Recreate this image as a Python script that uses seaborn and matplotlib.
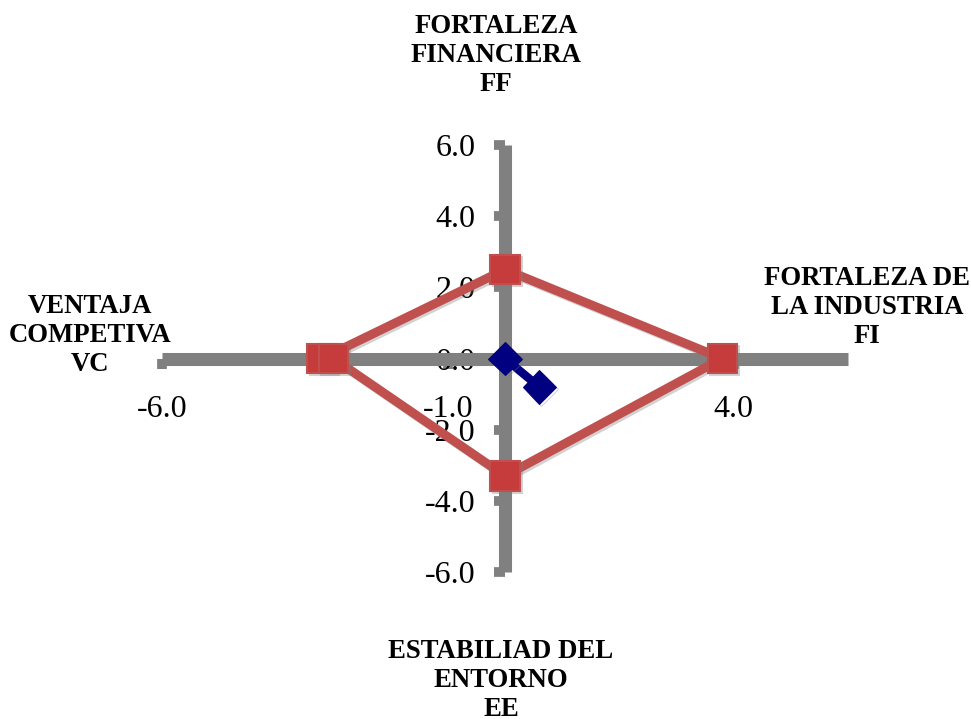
import matplotlib
matplotlib.use("Agg")
import matplotlib.pyplot as plt
import matplotlib.patheffects as pe
import seaborn as sns
from matplotlib.ticker import FormatStrFormatter

# Data
factor_x = [-3.2, 0.0, 3.8, 0.0, -3.0]
factor_y = [0.0, 2.5, 0.0, -3.3, 0.0]
vector_x = [0.0, 0.6]
vector_y = [0.0, -0.8]
x_ticks = [-6, -1, 4]
y_ticks = [-6, -4, -2, 0, 2, 4, 6]
axis_names = ["FORTALEZA\nFINANCIERA\nFF",
              "FORTALEZA DE\nLA INDUSTRIA\nFI",
              "VENTAJA\nCOMPETIVA\nVC",
              "ESTABILIAD DEL\nENTORNO\nEE"]

sns.set_theme(style="white")
plt.rcParams['font.family'] = ['Liberation Serif', 'DejaVu Serif']
plt.rcParams['axes.unicode_minus'] = False

fig = plt.figure(figsize=(9.71, 7.19), dpi=100)
ax = fig.add_axes([0.16684, 0.20445, 0.70649, 0.59388])

shadow = [pe.SimpleLineShadow(offset=(1.5, -1.5), shadow_color='gray', alpha=0.35), pe.Normal()]

sns.lineplot(x=factor_x, y=factor_y, sort=False, estimator=None, ax=ax,
             color='#C0504D', linewidth=6.5, marker='s', markersize=21,
             markerfacecolor='#C63B3B', markeredgecolor='#C0504D',
             markeredgewidth=1.5, zorder=4, path_effects=shadow)
sns.lineplot(x=vector_x, y=vector_y, sort=False, estimator=None, ax=ax,
             color='#000080', linewidth=6, marker='D', markersize=17,
             markerfacecolor='#000080', markeredgecolor='#000080', zorder=5,
             path_effects=shadow)

ax.set_xlim(-6, 6)
ax.set_ylim(-6, 6)
for side in ['left', 'bottom']:
    ax.spines[side].set_position(('data', 0))
    ax.spines[side].set_color('#808080')
    ax.spines[side].set_linewidth(9.4)
    ax.spines[side].set_capstyle('butt')
    ax.spines[side].set_zorder(2)
for side in ['top', 'right']:
    ax.spines[side].set_visible(False)

ax.set_xticks(x_ticks)
ax.set_yticks(y_ticks)
ax.xaxis.set_major_formatter(FormatStrFormatter('%.1f'))
ax.yaxis.set_major_formatter(FormatStrFormatter('%.1f'))
ax.tick_params(axis='y', direction='out', length=8, width=7, color='#808080',
               pad=13, labelsize=23, labelcolor='black', left=True)
ax.tick_params(axis='x', direction='out', length=7, width=7, color='#808080',
               pad=19, labelsize=23, labelcolor='black', bottom=True)
ax.set_facecolor('none')

# axis names
name_pos = [(496, 14), (867, 266), (90, 294), (501, 639)]
for name, (px, py) in zip(axis_names, name_pos):
    fig.text(px / 971, 1 - py / 719, name, ha='center', va='top',
             multialignment='center', fontsize=19.3, fontweight='bold',
             linespacing=1.2, color='black')

fig.savefig('out.png', dpi=100)
